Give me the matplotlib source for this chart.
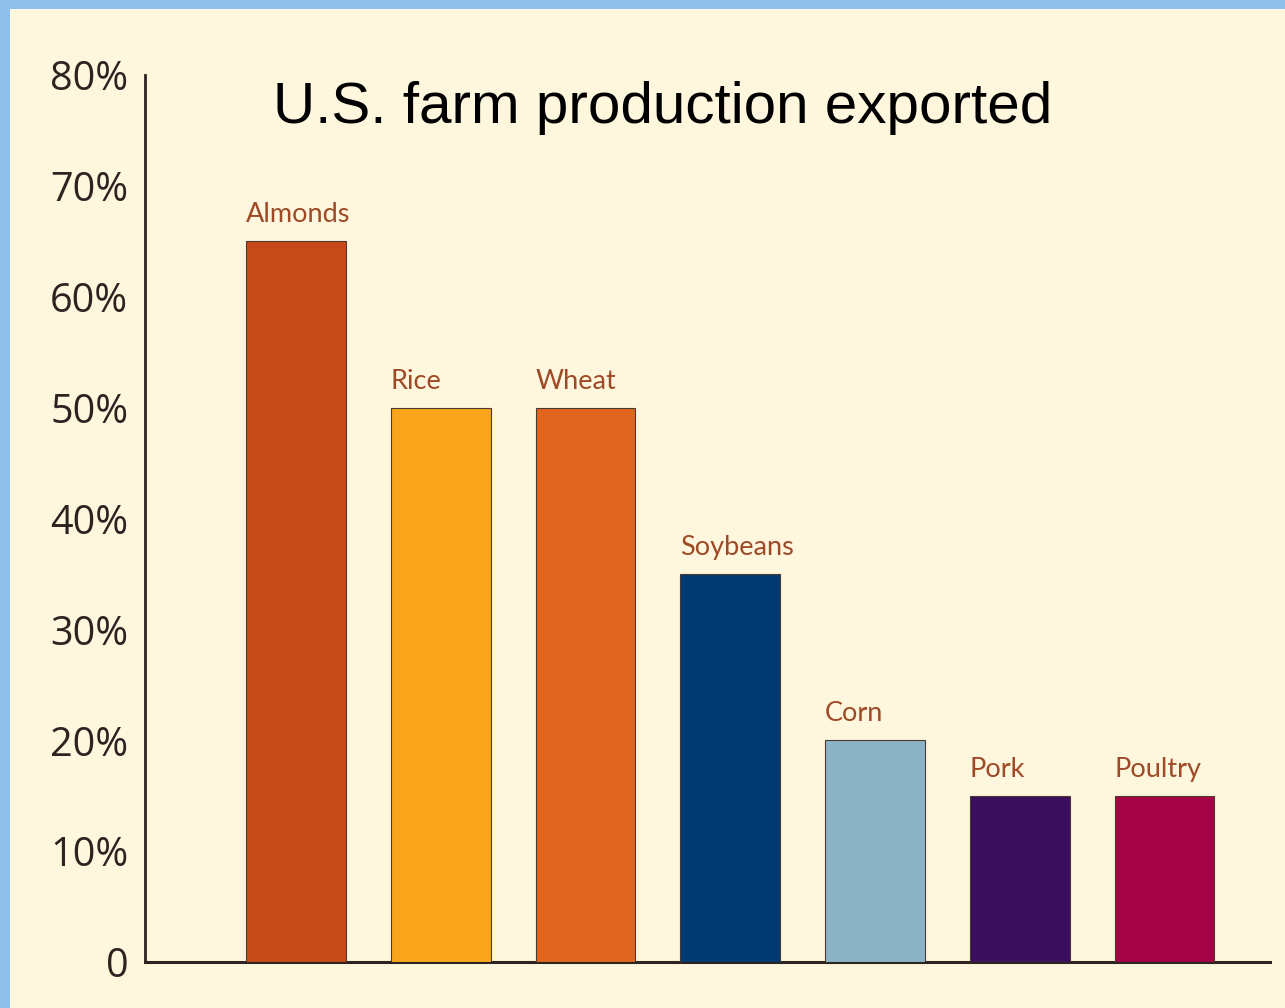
import matplotlib
matplotlib.use("Agg")
import matplotlib.pyplot as plt
from matplotlib.patches import Rectangle

categories = ["Almonds", "Rice", "Wheat", "Soybeans", "Corn", "Pork", "Poultry"]
values = [65, 50, 50, 35, 20, 15, 15]
colors = ["#C64A18", "#F8A51C", "#E0661F", "#013A71", "#8AB3C6", "#3C0E5E", "#A50246"]
yticks = [0, 10, 20, 30, 40, 50, 60, 70, 80]
ytick_labels = ["0", "10%", "20%", "30%", "40%", "50%", "60%", "70%", "80%"]
title = "U.S. farm production exported"

W, H = 1285, 1008
fig = plt.figure(figsize=(W / 100, H / 100), dpi=100)
fig.patch.set_facecolor("#FFF6DE")

# blue frame strips (top and left)
fig.patches.append(Rectangle((0, 1 - 9 / H), 1, 9 / H, transform=fig.transFigure,
                             facecolor="#8EC0EA", edgecolor="none", zorder=0))
fig.patches.append(Rectangle((0, 0), 10 / W, 1, transform=fig.transFigure,
                             facecolor="#8EC0EA", edgecolor="none", zorder=0))

left, right = 145 / W, 1270 / W
bottom, top = (H - 962) / H, (H - 75) / H
ax = fig.add_axes([left, bottom, right - left, top - bottom])
ax.set_facecolor("none")

x = list(range(len(categories)))
width = 0.69
bars = ax.bar(x, values, width=width, color=colors, edgecolor="#4a3a30", linewidth=0.8, zorder=3)

ax.set_xlim(-1.043, 6.729)
ax.set_ylim(0, 80)
ax.set_yticks(yticks)
ax.set_yticklabels(ytick_labels, fontsize=28.5, color="#2b2420", family="Open Sans")
ax.set_xticks([])
ax.tick_params(axis="y", length=0, pad=12)

for s in ["top", "right"]:
    ax.spines[s].set_visible(False)
ax.spines["left"].set_color("#2b2420")
ax.spines["bottom"].set_color("#2b2420")
ax.spines["left"].set_linewidth(2)
ax.spines["bottom"].set_linewidth(2.2)

for xi, v, name in zip(x, values, categories):
    ax.annotate(name, xy=(xi - width / 2, v), xytext=(0, 10), textcoords="offset points",
                ha="left", va="bottom", fontsize=19.5, color="#9E4A26", family="Lato")

fig.text(663 / W, 1 - 123 / H, title, ha="center", va="baseline", fontsize=42,
         color="black", family="Liberation Sans")

fig.savefig("out.png", dpi=100, facecolor=fig.get_facecolor())
